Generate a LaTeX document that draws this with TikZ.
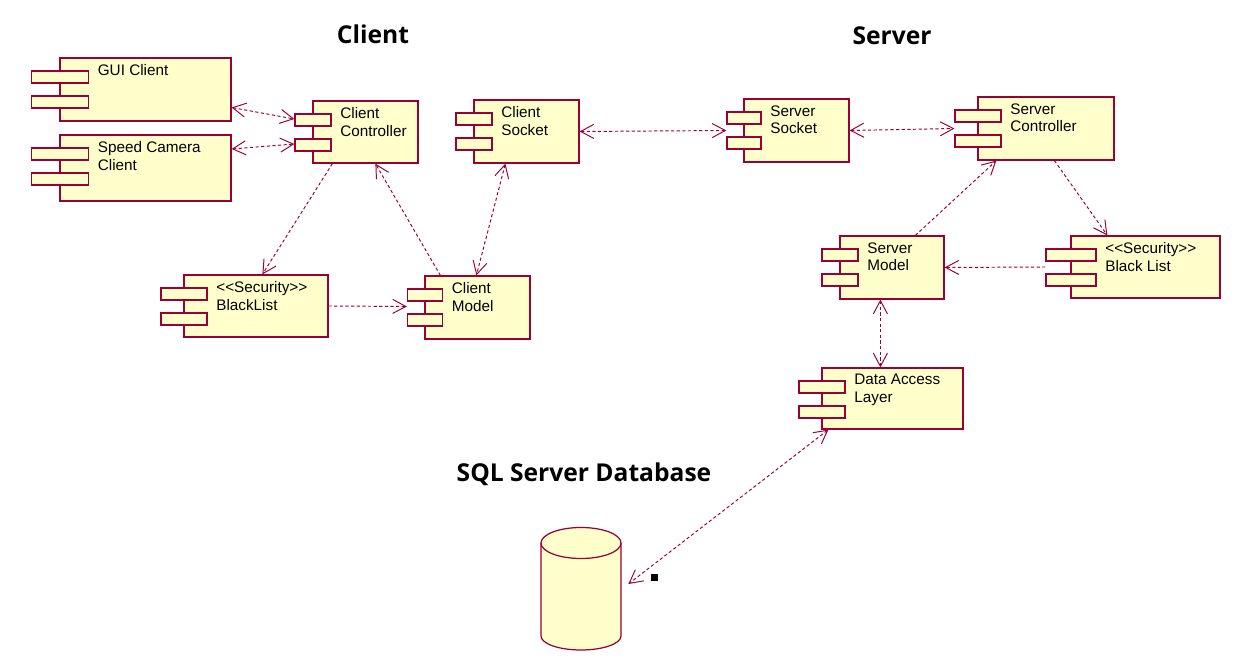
\documentclass[tikz,border=0pt]{standalone}
\usepackage{fontspec}
\setmainfont{Liberation Sans}
\newfontfamily\titlefont{Open Sans}
\usetikzlibrary{arrows.meta,calc,fit}

\definecolor{roseline}{RGB}{153,0,51}
\definecolor{rosefill}{RGB}{255,255,204}

\tikzset{
  comp/.style={draw=roseline, fill=rosefill, line width=0.7pt, inner sep=0pt},
  comptab/.style={draw=roseline, fill=rosefill, line width=0.7pt},
  complabel/.style={anchor=north west, inner sep=0pt, align=left, font=\fontsize{8.7}{10.2}\selectfont},
  dep/.style={draw=roseline, line width=0.55pt, dash pattern=on 1.8pt off 1.4pt, -{Straight Barb[length=7.5pt,width=8pt]}},
  biddep/.style={dep, {Straight Barb[length=7.5pt,width=8pt]}-{Straight Barb[length=7.5pt,width=8pt]}},
  heading/.style={font=\titlefont\bfseries\fontsize{14}{16}\selectfont, inner sep=0pt}
}

% component box: name, left, top, right, bottom, half tab width, text
\newcommand{\umlcomp}[7]{%
  \node[comp, fit={(#2,#3) (#4,#5)}] (#1) {};
  \foreach \t in {13,38}
    \draw[comptab] (#2-#6,#3+\t) rectangle (#2+#6,#3+\t+12);
  \node[complabel] (#1-label) at (#2+#6+9,#3+6) {#7};
}

\begin{document}
\begin{tikzpicture}[x=0.02cm, y=-0.02cm]
\useasboundingbox (0,0) rectangle (1244,671);

% headings
\node[heading] (clienttitle) at (373,34) {Client};
\node[heading] (servertitle) at (892,36) {Server};
\node[heading] (dbtitle) at (584,474) {SQL Server Database};

% client side
\umlcomp{gui}{60}{58}{231}{121}{28.5}{GUI Client}
\umlcomp{speedcam}{60}{135}{231}{201}{28.5}{Speed Camera\\Client}
\umlcomp{clictrl}{313}{101}{418}{163}{18}{Client\\Controller}
\umlcomp{clisock}{474}{100}{579}{163}{18}{Client\\Socket}
\umlcomp{cliblack}{184}{275}{328}{337}{23}{<{}<Security>{}>\\BlackList}
\umlcomp{climodel}{425}{276}{530}{339}{17.5}{Client\\Model}

% server side
\umlcomp{srvsock}{744}{99}{849}{162}{17}{Server\\Socket}
\umlcomp{srvctrl}{978}{97}{1114}{160}{23}{Server\\Controller}
\umlcomp{srvmodel}{840}{236}{944}{299}{18}{Server\\Model}
\umlcomp{srvblack}{1071}{236}{1220}{298}{25}{<{}<Security>{}>\\Black List}
\umlcomp{dal}{822}{368}{963}{429}{23}{Data Access\\Layer}

% database
\fill[rosefill] (541,543) -- (541,636) arc[start angle=180, end angle=0, x radius=40, y radius=14] -- (621,543) -- cycle;
\draw[roseline, line width=0.7pt] (541,543) -- (541,636) arc[start angle=180, end angle=0, x radius=40, y radius=14] -- (621,543);
\draw[comptab] (581,543) ellipse[x radius=40, y radius=15.5];
\node[fit={(541,528) (621,650)}, inner sep=0pt] (db) {};
\fill (651,574) rectangle (658,581);

% dependencies
\draw[biddep] ($(gui.east)+(0,18)$) -- ($(clictrl.west)+(-18,-13)$);
\draw[biddep] ($(speedcam.east)+(0,-19)$) -- ($(clictrl.west)+(-18,12)$);
\draw[dep] ($(clictrl.south west)+(20,0)$) -- ($(cliblack.north west)+(79,0)$);
\draw[dep] ($(climodel.north west)+(16,0)$) -- ($(clictrl.south west)+(63,0)$);
\draw[biddep] ($(clisock.south west)+(32,0)$) -- ($(climodel.north west)+(52,0)$);
\draw[dep] (cliblack.east) -- ($(climodel.west)+(-17.5,-1)$);
\draw[biddep] (clisock.east) -- ($(srvsock.west)+(-17,0)$);
\draw[biddep] (srvsock.east) -- ($(srvctrl.west)+(-23,0)$);
\draw[dep] ($(srvmodel.north west)+(76,0)$) -- ($(srvctrl.south west)+(19,0)$);
\draw[dep] ($(srvctrl.south west)+(77,0)$) -- ($(srvblack.north west)+(37,0)$);
\draw[dep] ($(srvblack.west)+(-25,0)$) -- (srvmodel.east);
\draw[biddep] ($(srvmodel.south west)+(41,0)$) -- ($(dal.north west)+(59,0)$);
\draw[biddep] ($(dal.south west)+(7,0)$) -- ($(db.east)+(7,-5)$);
\end{tikzpicture}
\end{document}
